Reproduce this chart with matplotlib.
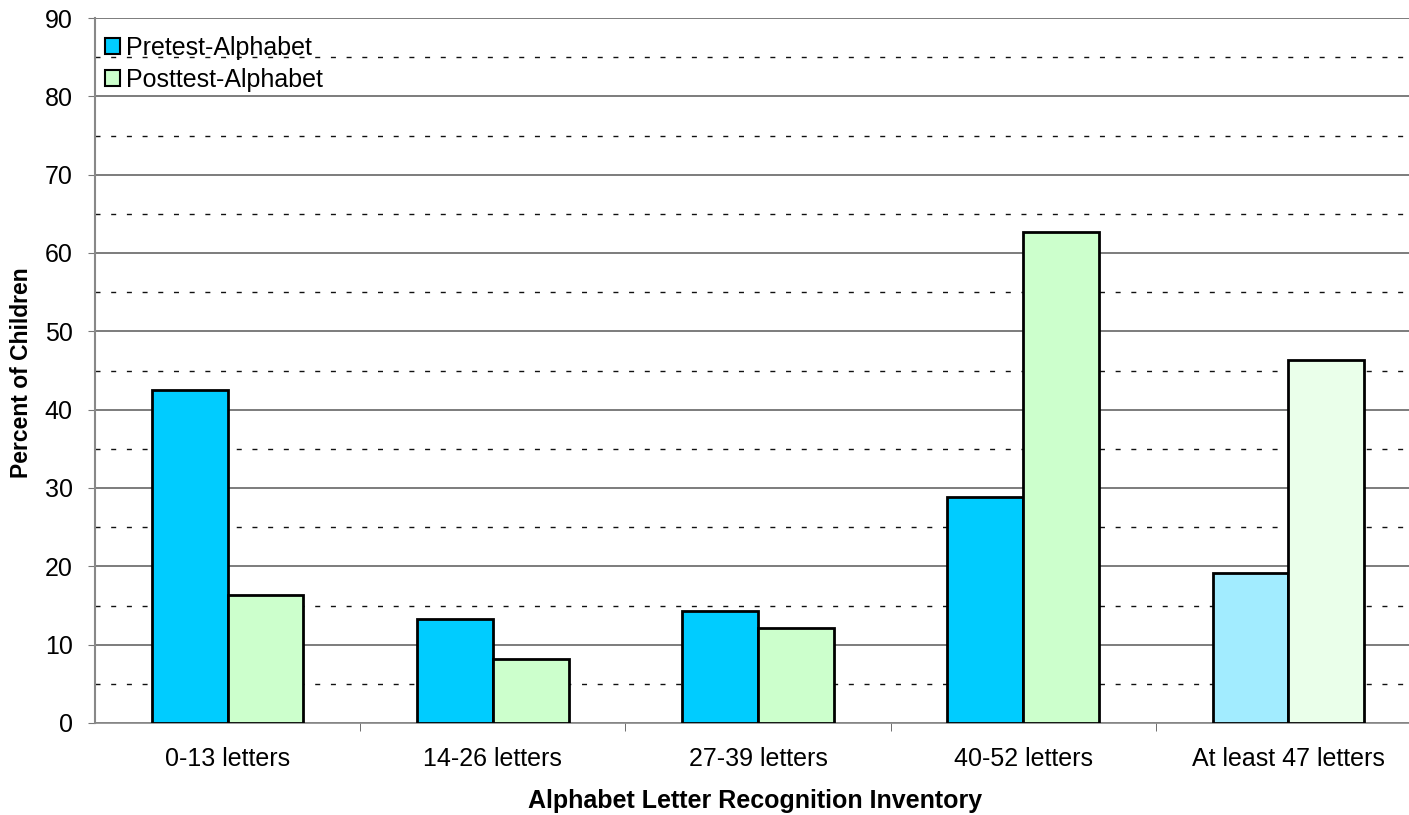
import matplotlib
matplotlib.use("Agg")
import matplotlib.pyplot as plt
from matplotlib.patches import Patch, Rectangle
import numpy as np

plt.rcParams['font.family'] = ['Liberation Sans', 'DejaVu Sans']

categories = ["0-13 letters", "14-26 letters", "27-39 letters", "40-52 letters", "At least 47 letters"]
pretest = [42.5, 13.3, 14.3, 28.9, 19.2]
posttest = [16.3, 8.2, 12.1, 62.7, 46.4]
series_names = ["Pretest-Alphabet", "Posttest-Alphabet"]
pre_colors = ["#00CCFF", "#00CCFF", "#00CCFF", "#00CCFF", "#A2ECFF"]
post_colors = ["#CCFFCC", "#CCFFCC", "#CCFFCC", "#CCFFCC", "#EAFFEA"]

W, H = 1409, 815
fig = plt.figure(figsize=(W / 100, H / 100), dpi=100)
left, right, top, bottom = 95, 1421, 18, 723
aw, ah = right - left, bottom - top
ax = fig.add_axes([left / W, 1 - bottom / H, aw / W, ah / H])

x = np.arange(len(categories))
bw = 0.286
ax.bar(x - bw / 2, pretest, bw, color=pre_colors, edgecolor="black", linewidth=2, zorder=3)
ax.bar(x + bw / 2, posttest, bw, color=post_colors, edgecolor="black", linewidth=2, zorder=3)

ax.set_xlim(-0.5, len(categories) - 0.5)
ax.set_ylim(0, 90)
ax.set_yticks(np.arange(0, 91, 10))
ax.set_yticks(np.arange(5, 90, 10), minor=True)
ax.grid(axis="y", which="major", color="#666666", linewidth=1.2, zorder=0)
ax.grid(axis="y", which="minor", color="#111111", linewidth=1, linestyle=(0, (3.6, 7.7)), zorder=0)
ax.tick_params(axis="y", which="minor", length=0)
ax.tick_params(axis="y", which="major", labelsize=18, length=5, color="#777777",
               direction="out", pad=11)

ax.set_xticks(x)
ax.set_xticklabels(categories)
ax.set_xticks(np.arange(0.5, len(categories) - 0.5, 1), minor=True)
ax.tick_params(axis="x", which="major", length=0, labelsize=18, pad=17)
ax.tick_params(axis="x", which="minor", length=6, color="#555555")

for s in ["top", "right"]:
    ax.spines[s].set_visible(False)
ax.spines["left"].set_color("#888888")
ax.spines["left"].set_linewidth(1.5)
ax.spines["bottom"].set_color("#888888")
ax.spines["bottom"].set_linewidth(1.2)

ax.set_ylabel("Percent of Children", fontsize=16.5, fontweight="bold")
ax.yaxis.set_label_coords((33 - left) / aw, (bottom - 373) / ah)
ax.set_xlabel("Alphabet Letter Recognition Inventory", fontsize=18, fontweight="bold")
ax.xaxis.set_label_coords((755 - left) / aw, -(789 - bottom) / ah)

# white background behind the legend (covers dashed line at 85 only)
ax.add_patch(Rectangle((0.0012, (bottom - 92) / ah), (353 - left) / aw, (92 - 24) / ah,
                       transform=ax.transAxes, facecolor="white", edgecolor="none", zorder=1))

handles = [Patch(facecolor="#00CCFF", edgecolor="black", linewidth=1.5),
           Patch(facecolor="#CCFFCC", edgecolor="black", linewidth=1.5)]
leg = ax.legend(handles, series_names, loc="upper left",
                bbox_to_anchor=((105 - left) / aw, (bottom - 35.5) / ah),
                frameon=False, fontsize=18, handlelength=0.6, handleheight=0.6,
                handletextpad=0.25, labelspacing=0.33, borderpad=0.0, borderaxespad=0.0)
leg.set_zorder(5)

fig.savefig("out.png", dpi=100)
